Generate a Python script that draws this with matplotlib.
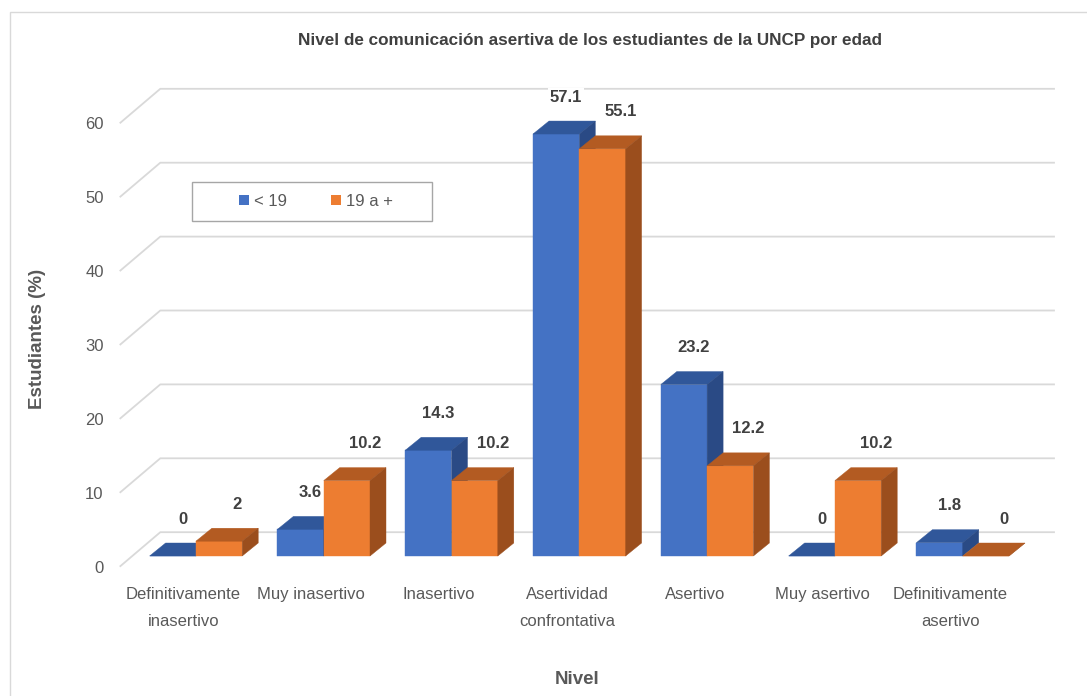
import matplotlib
matplotlib.use('Agg')
import matplotlib.pyplot as plt
from matplotlib.patches import Polygon, Rectangle, Patch
import numpy as np

# ---------------- data ----------------
categories = ["Definitivamente\ninasertivo", "Muy inasertivo", "Inasertivo",
              "Asertividad\nconfrontativa", "Asertivo", "Muy asertivo",
              "Definitivamente\nasertivo"]
menor_19 = [0, 3.6, 14.3, 57.1, 23.2, 0, 1.8]
mayor_19 = [2, 10.2, 10.2, 55.1, 12.2, 10.2, 0]
series_names = ["< 19", "19 a +"]
y_ticks = [0, 10, 20, 30, 40, 50, 60]
title = "Nivel de comunicación asertiva de los estudiantes de la UNCP por edad"
xlabel = "Nivel"
ylabel = "Estudiantes (%)"

# ---------------- style ----------------
plt.rcParams['font.family'] = ['Liberation Sans', 'DejaVu Sans']
FS = 12

W, H, DPI = 1087, 696, 100
fig = plt.figure(figsize=(W / DPI, H / DPI), dpi=DPI)

X0_PX, Y0_PX = 119.7, 566.7          # floor front-left corner (value 0)
PX_PER_CAT, PX_PER_UNIT = 127.8, 7.39
YTOP = 68

ax = fig.add_axes([X0_PX / W, (H - Y0_PX) / H, 7 * PX_PER_CAT / W, YTOP * PX_PER_UNIT / H])
ax.set_xlim(-0.5, 6.5)
ax.set_ylim(0, YTOP)
for s in ax.spines.values():
    s.set_visible(False)


def dx(px):
    return px / PX_PER_CAT


def dy(px):
    return px / PX_PER_UNIT


WALL = (40.6, 34.5)
SHIFT = (12.3, 10.7)
DEPTH = (16.0, 13.0)
BW = 46.3

# gridlines (side wall diagonal + back wall)
for v in y_ticks:
    xs = [-0.5, -0.5 + dx(WALL[0]), 6.5 + dx(WALL[0])]
    ys = [v, v + dy(WALL[1]), v + dy(WALL[1])]
    ax.plot(xs, ys, color='#d9d9d9', lw=1.3, clip_on=False, zorder=1,
            solid_capstyle='butt')

x = np.arange(len(categories))
xc = x + dx(SHIFT[0])
w = dx(BW)
sy = dy(SHIFT[1])
ddx, ddy = dx(DEPTH[0]), dy(DEPTH[1])

blue = ('#4472C4', '#30579A', '#2A4A85')
orange = ('#ED7D31', '#B35B22', '#9B4E1D')
series = [(menor_19, -w / 2, blue, 10), (mayor_19, w / 2, orange, 18)]

for vals, off, (cf, ct, cs), lab_dx in series:
    bars = ax.bar(xc + off, vals, width=w, bottom=sy, color=cf, zorder=3,
                  linewidth=0.3, edgecolor=cf, clip_on=False)
    for b in bars:
        x0 = b.get_x()
        x1 = x0 + b.get_width()
        y0 = b.get_y()
        y1 = y0 + b.get_height()
        top = Polygon([(x0, y1), (x1, y1), (x1 + ddx, y1 + ddy), (x0 + ddx, y1 + ddy)],
                      closed=True, fc=ct, ec=ct, lw=0.3, zorder=3, clip_on=False)
        side = Polygon([(x1, y0), (x1 + ddx, y0 + ddy), (x1 + ddx, y1 + ddy), (x1, y1)],
                       closed=True, fc=cs, ec=cs, lw=0.3, zorder=3, clip_on=False)
        ax.add_patch(top)
        ax.add_patch(side)
    for xi, v in zip(xc + off, vals):
        ax.text(xi + dx(lab_dx), sy + v + dy(37), f"{v:g}", ha='center', va='center',
                fontsize=FS, fontweight='bold', color='#404040', zorder=2,
                bbox=dict(fc='white', ec='none', pad=1.5))

# ticks
ax.set_xticks(x, categories)
ax.set_yticks(y_ticks)
ax.tick_params(axis='both', length=0, colors='#595959', labelsize=FS)
ax.tick_params(axis='y', pad=16 * 72 / DPI)
ax.tick_params(axis='x', pad=20.5 * 72 / DPI)
for lab in ax.get_xticklabels():
    lab.set_linespacing(2.0)

# axis titles
ax.set_ylabel(ylabel, fontsize=13.5, fontweight='bold', color='#595959', va='center')
ax.yaxis.set_label_coords((38 - X0_PX) / (7 * PX_PER_CAT), (Y0_PX - 339) / (YTOP * PX_PER_UNIT))
ax.set_xlabel(xlabel, fontsize=13.5, fontweight='bold', color='#595959', va='center')
ax.xaxis.set_label_coords((577 - X0_PX) / (7 * PX_PER_CAT), (Y0_PX - 680) / (YTOP * PX_PER_UNIT))

# title
fig.text(590 / W, 1 - 40 / H, title, ha='center', va='center', fontsize=12.3,
         fontweight='bold', color='#404040')

# legend
handles = [Patch(fc=blue[0]), Patch(fc=orange[0])]
fig.legend(handles, series_names, loc='center', bbox_to_anchor=(316 / W, 1 - 201.5 / H),
           ncol=2, frameon=False, handlelength=0.6, handleheight=0.6,
           handletextpad=0.3, columnspacing=2.68, fontsize=FS, labelcolor='#595959',
           borderpad=0)
fig.add_artist(Rectangle((192 / W, 1 - 221 / H), 240 / W, 39 / H, transform=fig.transFigure,
                         fill=False, ec='#a6a6a6', lw=1))

# outer chart border
fig.add_artist(Rectangle((10 / W, -0.1), 1.2, 1.1 - 12 / H, transform=fig.transFigure,
                         fill=False, ec='#d9d9d9', lw=1))

fig.savefig('out.png', dpi=DPI)
